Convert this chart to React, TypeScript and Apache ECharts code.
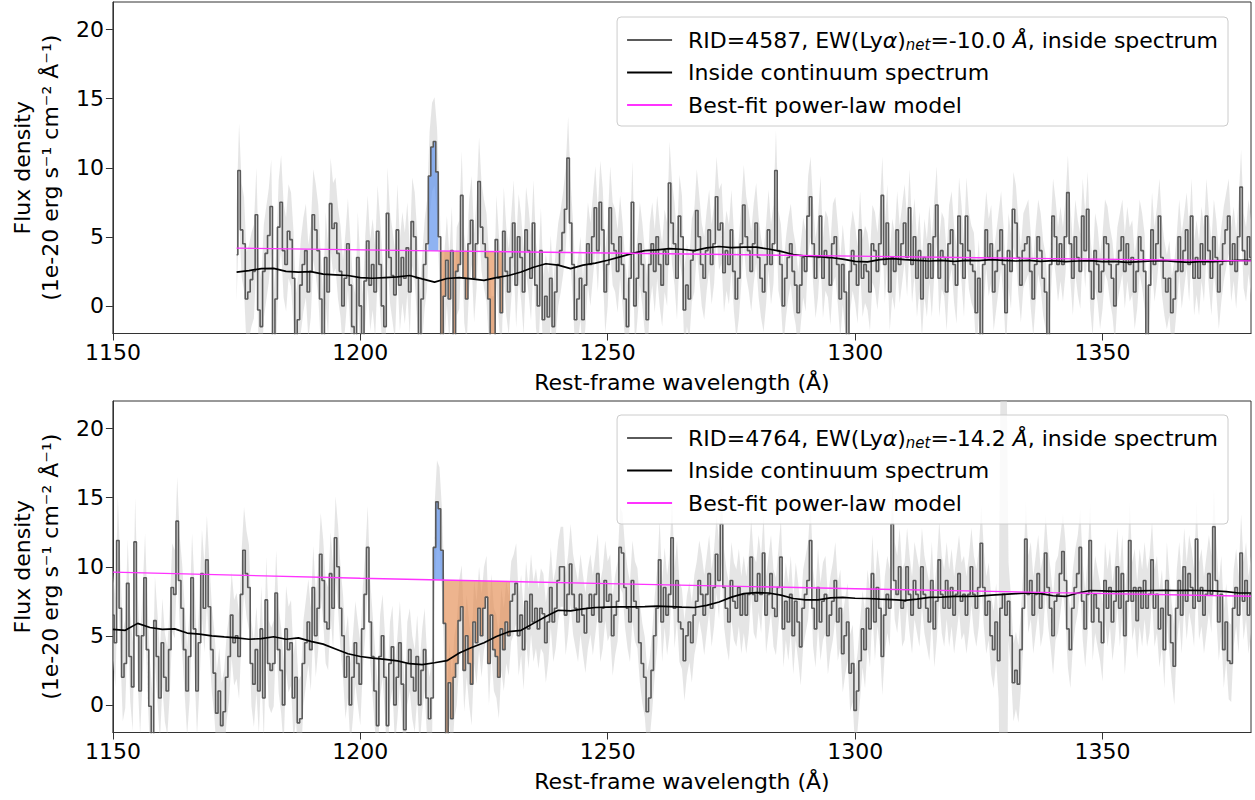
import React, { useEffect, useRef } from 'react';
import * as echarts from 'echarts';

const FONT = 'DejaVu Sans';
const X_TICKS = [1150, 1200, 1250, 1300, 1350];
const Y_TICKS = [0, 5, 10, 15, 20];
const STEP = 0.5; // spectral pixel (Å)

// ---------- top panel (RID=4587) spectrum, from 1175.0 Å in 0.5 Å pixels ----------
const TOP_START = 1175.0;
const TOP_FLUX = [
  3.7, 9.8, 5.5, 4.5, 0.5, 1.0, 1.9, 2.5, 6.6, -0.3,
  -1.5, 2.5, 3.8, 5.1, 7.2, -2.5, 0.5, 5.7, 7.5, 4.0,
  3.0, 5.4, 4.8, 2.0, -2.5, -1.0, 1.5, 3.0, 4.0, 1.0,
  2.5, 6.6, 5.5, 4.0, 0.5, -2.5, 3.5, 1.0, 7.4, 5.6,
  6.0, 3.8, 2.5, 0.0, 2.0, 4.5, 1.5, -1.5, -2.5, 3.5,
  0.0, -2.5, 1.8, 4.7, 1.5, 3.0, 1.0, 5.4, 3.0, 0.0,
  -1.5, 6.7, 3.5, 2.2, 0.8, 5.5, 1.5, 3.5, 2.0, 4.2,
  1.0, 6.1, 5.0, 2.0, -2.5, 0.5, 3.0, 4.5, 9.4, 11.5,
  11.9, 9.7, 5.0, -2.5, 0.7, 3.3, 0.5, 4.0, -2.5, 2.5,
  3.0, 8.0, 2.0, 0.5, 4.5, 6.2, 2.0, 4.5, 9.0, 5.7,
  4.5, 3.5, 0.5, -2.5, -2.5, 4.8, 2.0, -0.5, 5.4, 2.5,
  1.0, 3.5, 6.0, 1.5, 5.0, 3.5, 1.0, 5.5, 4.0, 2.0,
  6.0, 1.5, 0.0, 4.0, -1.0, 0.7, -0.8, 2.0, -1.5, 1.0,
  3.0, 4.0, 5.3, 7.0, 10.7, 6.0, 3.0, -1.0, 0.5, 2.0,
  -1.0, 1.5, 4.5, 3.0, 5.0, 7.1, 4.0, 7.5, 5.5, 1.0,
  3.0, 7.1, 4.5, 4.0, 2.5, 5.0, 3.0, 0.5, -1.5, 2.0,
  7.5, 0.0, 2.0, 4.5, 3.0, 1.0, -1.0, 3.0, 4.5, 2.5,
  5.0, 3.0, 1.5, 4.0, 3.0, 8.9, 6.0, 4.5, 2.0, 6.5,
  5.0, -0.3, 1.5, 0.5, 3.3, 4.0, 6.9, 5.0, 3.0, 2.0,
  4.0, 5.5, 3.0, 4.5, 7.9, 5.5, 6.0, 2.4, 4.0, 3.0,
  5.5, 2.5, 0.5, 2.0, 4.5, 7.3, 5.0, 4.0, 2.5, 4.5,
  6.0, 3.5, 2.0, 1.0, 3.0, 5.5, 3.0, 4.5, 9.8, 4.0,
  3.0, 0.0, 2.0, 3.5, 4.5, 2.5, 1.5, -0.5, 1.5, 3.5,
  2.5, 6.5, 7.9, 4.5, 2.0, 3.5, 6.5, 2.0, 4.0, 3.5,
  1.5, 4.5, 5.0, 3.0, 0.5, 3.0, 1.0, -2.5, 2.5, 4.0,
  3.0, 1.5, 5.5, 2.0, 3.0, 2.5, 1.0, 4.5, 4.0, 2.5,
  4.5, 8.0, 3.0, 6.0, 1.0, 3.5, 2.5, 5.5, 3.0, 4.5,
  6.0, 3.5, 7.1, 3.0, 5.0, 2.0, 4.0, 0.5, 3.5, 2.0,
  4.5, 2.0, 5.0, 7.3, 2.0, 4.0, 3.5, 1.0, 4.5, 5.5,
  3.0, 1.5, 6.5, 4.5, 2.0, 6.5, 4.0, 3.0, 2.5, -0.5,
  2.0, -2.5, 3.0, 5.5, 3.5, 4.5, 1.0, 2.5, 4.0, 5.5,
  3.0, -0.5, 4.0, 2.5, 7.0, 6.0, 3.5, 1.5, 4.0, 4.5,
  5.0, 2.5, 0.5, 3.0, 5.0, 4.0, 2.0, 1.0, -2.5, 3.0,
  6.5, 5.0, 3.0, 4.5, 3.0, 5.0, 8.2, 4.5, 2.0, 5.0,
  3.5, 2.5, 6.5, 4.0, 7.0, 2.5, 0.5, 4.0, 3.0, 1.0,
  2.5, 5.0, 4.5, 3.0, 2.0, 0.0, 3.0, 4.0, 5.0, 2.5,
  4.5, 3.0, 3.5, 1.0, 2.5, 5.0, 4.0, 2.5, -2.5, 1.5,
  5.5, 3.0, 4.5, 6.5, 3.5, 2.0, 1.0, 2.0, -0.5, 0.5,
  2.5, 5.0, 2.5, 4.0, 5.5, 3.0, 6.5, 2.0, 3.5, 2.0,
  4.5, 3.0, 6.5, 4.0, 2.0, 5.0, 3.5, 1.0, 3.0, 4.5,
  5.5, 6.5, 3.0, 4.5, 2.5, 5.0, 8.6, 4.0, 3.0, 5.0,
  3.5,
];

// ---------- bottom panel (RID=4764) spectrum, from 1150.0 Å in 0.5 Å pixels ----------
const BOT_START = 1150.0;
const BOT_FLUX = [
  6.5, 4.5, 11.9, 7.0, 2.0, 3.0, 8.8, 3.5, 1.3, 11.8,
  5.0, 1.0, 5.0, 9.2, 4.0, -0.1, -2.5, 6.1, 3.5, 0.5,
  4.5, 2.0, 1.0, 4.0, 8.5, 8.0, 13.3, 9.0, 7.0, 4.0,
  1.0, 3.5, 9.2, 5.5, 1.0, 4.5, 9.5, 7.0, 10.5, 7.1,
  4.0, 2.3, -0.6, 1.0, -1.5, -0.5, 2.0, 3.5, 6.5, 4.5,
  5.0, 3.5, 8.0, 11.2, 9.5, 8.5, 3.0, 1.5, 4.0, 1.0,
  5.5, 0.5, 7.6, 3.0, 2.5, 3.0, 8.1, 4.0, 2.5, 0.0,
  5.5, 4.0, 4.5, 0.5, 2.0, -1.3, -1.0, 3.0, 4.5, 6.0,
  4.0, 8.5, 5.0, 7.0, 10.9, 9.0, 6.0, 5.5, 9.5, 7.0,
  12.1, 10.0, 7.0, 5.0, 2.0, 3.5, 0.0, 2.0, 4.5, 3.0,
  1.5, 5.5, 8.0, 11.4, 6.0, 3.5, 1.0, -1.5, 3.5, 5.0,
  2.0, -1.5, 3.0, 4.2, 0.0, 2.0, 4.5, 1.5, -1.8, 3.0,
  4.0, 2.0, 1.0, 3.5, 0.0, 2.5, 4.0, 0.5, -1.0, 0.5,
  11.4, 14.7, 14.2, 11.2, 5.9, -2.5, 1.6, -1.0, 2.0, 3.0,
  6.1, 7.1, 2.5, 5.0, 3.0, 1.5, 6.0, 4.5, 7.0, 5.0,
  7.0, 7.8, 3.0, 6.5, 4.0, 3.5, 2.0, 5.5, 4.0, 6.0,
  5.0, 7.5, 8.0, 8.8, 5.0, 6.5, 4.0, 7.5, 5.5, 8.0,
  6.0, 7.0, 5.5, 7.0, 6.6, 4.5, 6.0, 8.5, 6.0, 7.0,
  9.0, 10.0, 10.0, 6.5, 8.0, 10.2, 8.0, 7.0, 6.0, 8.0,
  6.5, 5.2, 7.0, 8.0, 6.5, 8.0, 9.5, 6.0, 7.0, 9.0,
  7.5, 8.0, 5.0, 6.5, 7.5, 11.4, 11.0, 8.5, 7.0, 6.0,
  9.0, 7.5, 7.0, 4.5, 3.0, 2.0, -0.5, 0.5, 2.5, 5.0,
  7.0, 10.5, 6.0, 8.5, 6.5, 8.0, 12.1, 7.0, 9.0, 6.0,
  5.5, 3.2, 5.0, 6.0, 4.5, 6.5, 7.5, 9.0, 8.0, 6.5,
  8.0, 9.5, 7.0, 8.5, 10.9, 9.0, 13.1, 8.5, 7.0, 6.0,
  9.0, 7.5, 7.0, 8.5, 6.5, 8.0, 6.5, 8.0, 10.7, 8.0,
  7.5, 9.5, 8.0, 11.0, 6.5, 8.0, 9.5, 7.0, 6.4, 8.5,
  10.7, 5.5, 7.5, 6.0, 8.0, 5.0, 7.5, 6.0, 4.2, 7.0,
  8.0, 9.0, 11.9, 7.0, 5.5, 8.5, 6.0, 7.5, 8.0, 5.0,
  6.5, 7.5, 9.0, 6.0, 7.0, 3.7, 5.0, 6.0, 2.3, 3.0,
  -0.4, 1.0, 3.2, 5.5, 4.0, 7.0, 5.5, 9.5, 6.0, 8.5,
  7.0, 3.5, 6.5, 8.0, 7.0, 13.1, 9.0, 8.0, 10.0, 7.0,
  7.5, 10.0, 8.0, 6.5, 9.0, 8.0, 7.0, 10.0, 8.0, 7.0,
  6.0, 9.0, 5.5, 7.5, 10.5, 8.0, 7.0, 9.0, 7.0, 8.5,
  6.5, 8.0, 9.5, 7.5, 8.0, 6.5, 8.0, 10.0, 8.0, 7.0,
  8.5, 11.7, 8.5, 6.5, 7.5, 5.0, 4.0, 6.0, 3.2, 7.0,
  8.0, 6.5, 7.5, 5.0, 1.6, 2.5, 1.5, 4.0, 7.0, 12.0,
  8.0, 9.0, 6.5, 8.0, 9.5, 7.0, 8.0, 11.0, 8.5, 7.0,
  5.0, 7.5, 8.0, 9.5, 11.1, 9.0, 5.5, 4.0, 7.0, 8.5,
  9.5, 11.4, 7.5, 5.5, 8.0, 11.9, 6.0, 8.0, 7.0, 6.0,
  4.5, 9.0, 7.0, 8.5, 6.0, 7.5, 10.0, 7.0, 9.5, 5.0,
  7.5, 11.9, 7.5, 8.5, 6.1, 8.5, 7.0, 9.0, 7.0, 8.0,
  10.5, 7.0, 8.0, 5.5, 7.0, 4.0, 9.0, 6.5, 4.5, 2.8,
  7.0, 9.0, 6.5, 10.0, 7.5, 9.5, 8.5, 7.0, 12.0, 7.5,
  8.5, 6.5, 8.0, 9.5, 8.0, 12.9, 9.0, 6.0, 8.0, 4.0,
  6.0, 3.2, 3.0, 7.0, 8.5, 6.5, 11.0, 7.5, 9.0, 6.5,
  8.0,
];

// ---------- continuum spectra (2.5 Å sampling) ----------
const CONT_STEP = 2.5;
const TOP_CONT = [
  2.45, 2.55, 2.7, 2.72, 2.5, 2.45, 2.48, 2.3, 2.25, 2.2,
  2.05, 2.0, 2.05, 2.1, 2.2, 1.95, 1.72, 1.98, 2.05, 1.95,
  1.85, 2.05, 2.2, 2.45, 2.8, 3.05, 2.95, 2.7, 2.95, 3.1,
  3.3, 3.55, 3.8, 4.0, 4.05, 4.15, 4.1, 4.0, 4.2, 4.3,
  4.22, 4.25, 4.25, 4.12, 3.95, 3.72, 3.6, 3.57, 3.5, 3.38,
  3.22, 3.18, 3.35, 3.42, 3.35, 3.3, 3.25, 3.3, 3.22, 3.3,
  3.28, 3.35, 3.3, 3.25, 3.3, 3.22, 3.28, 3.2, 3.25, 3.28,
  3.2, 3.22, 3.15, 3.2, 3.25, 3.28, 3.2, 3.15, 3.22, 3.2,
  3.25, 3.3, 3.3,
];
const BOT_CONT = [
  5.46, 5.4, 5.9, 5.6, 5.47, 5.5, 5.2, 5.12, 5.0, 4.92,
  4.85, 4.75, 4.8, 4.93, 4.75, 4.85, 4.6, 4.4, 4.05, 3.7,
  3.5, 3.38, 3.3, 3.18, 2.98, 2.92, 3.05, 3.2, 3.75, 4.15,
  4.5, 4.95, 5.3, 5.4, 5.9, 6.4, 6.85, 6.8, 6.95, 7.05,
  7.08, 7.1, 7.1, 7.12, 7.15, 7.12, 7.08, 7.05, 7.2, 7.45,
  7.8, 8.05, 8.12, 8.1, 7.95, 7.7, 7.6, 7.6, 7.75, 7.78,
  7.72, 7.7, 7.65, 7.62, 7.57, 7.65, 7.78, 7.8, 7.85, 7.85,
  7.88, 7.95, 8.0, 8.05, 8.1, 8.05, 7.9, 7.85, 8.1, 8.28,
  8.25, 8.22, 8.25, 8.25, 8.28, 8.3, 8.28, 8.3, 8.28, 8.25,
  8.2, 8.1, 8.1,
];

// ---------- best-fit power-law models ----------
const TOP_PL_WL = [1175, 1215, 1250, 1300, 1340, 1380];
const TOP_PL = [4.18, 3.98, 3.83, 3.6, 3.42, 3.26];
const BOT_PL_WL = [1150, 1200, 1250, 1300, 1340, 1380];
const BOT_PL = [9.61, 9.17, 8.78, 8.41, 8.13, 7.86];

// ---------- 1-sigma uncertainties (10 Å bins) ----------
const TOP_SIGMA_START = 1170;
const TOP_SIGMA = [3.4, 3.4, 3.3, 3.3, 3.2, 3.2, 3.1, 3.0, 3.0, 3.0, 2.9, 2.9, 2.9, 2.8, 2.8, 2.8, 2.7, 2.7, 2.7, 2.7, 2.7, 2.7];
const BOT_SIGMA_START = 1150;
const BOT_SIGMA = [3.2, 3.2, 3.1, 3.1, 3.0, 3.0, 3.0, 3.0, 2.9, 2.9, 2.9, 2.9, 2.8, 2.8, 2.8, 2.8, 2.8, 2.8, 2.8, 2.8, 2.8, 2.8, 2.8, 2.8];
const BOT_SKY_WL = [1329.5, 1330.0, 1330.5];
const BOT_SKY_SIGMA = [22, 26, 22];

// ---------- Lyα emission / absorption windows ----------
const TOP_BLUE = [1214.0, 1215.5];
const TOP_ORANGE = [1216.0, 1228.5];
const BOT_BLUE = [1215.0, 1216.5];
const BOT_ORANGE = [1217.0, 1230.0];

const SPEC_NAMES = [
  'RID=4587, EW(Lyα)net=-10.0 Å, inside spectrum',
  'RID=4764, EW(Lyα)net=-14.2 Å, inside spectrum',
];
const CONT_NAME = 'Inside continuum spectrum';
const PL_NAME = 'Best-fit power-law model';
const LEGEND_TEXT: Record<string, string> = {
  [SPEC_NAMES[0]]: '{sp| }RID=4587, EW(Ly{it|α}){sub|net}=-10.0 {it|Å}, inside spectrum',
  [SPEC_NAMES[1]]: '{sp| }RID=4764, EW(Ly{it|α}){sub|net}=-14.2 {it|Å}, inside spectrum',
  [CONT_NAME]: '{sp| }Inside continuum spectrum',
  [PL_NAME]: '{sp| }Best-fit power-law model',
};

const COLORS = {
  band: 'rgba(211,211,211,0.6)',
  spec: '#5a5a5a',
  cont: '#000000',
  pl: '#ff33ff',
  blue: 'rgba(100,149,237,0.72)',
  orange: 'rgba(228,140,82,0.65)',
  frame: '#333333',
};

function interp(xs: number[], ys: number[], x: number): number {
  let k = 0;
  while (k < xs.length - 2 && x > xs[k + 1]) k++;
  return ys[k] + ((ys[k + 1] - ys[k]) * (x - xs[k])) / (xs[k + 1] - xs[k]);
}

function sigmaFor(wl: number, bins: number[], start: number, skyWl: number[], skySig: number[]): number {
  for (let k = 0; k < skyWl.length; k++) if (Math.abs(skyWl[k] - wl) < 1e-6) return skySig[k];
  const idx = Math.min(bins.length - 1, Math.max(0, Math.floor((wl - start) / 10)));
  return bins[idx];
}

function clipRect(params: any) {
  const cs = params.coordSys;
  return { type: 'rect', shape: { x: cs.x, y: cs.y, width: cs.width, height: cs.height } };
}

interface Panel {
  wl: number[];
  flux: number[];
  sig: number[];
  contWl: number[];
  cont: number[];
  plWl: number[];
  pl: number[];
  blue: number[];
  orange: number[];
  name: string;
}

function buildPanel(
  start: number, flux: number[], cont: number[], plWl: number[], pl: number[],
  sigBins: number[], sigStart: number, skyWl: number[], skySig: number[],
  blue: number[], orange: number[], name: string,
): Panel {
  const wl = flux.map((_, i) => start + i * STEP);
  const contWl = cont.map((_, i) => start + i * CONT_STEP);
  const sig = wl.map((w) => sigmaFor(w, sigBins, sigStart, skyWl, skySig));
  return { wl, flux, sig, contWl, cont, plWl, pl, blue, orange, name };
}

const PANELS: Panel[] = [
  buildPanel(TOP_START, TOP_FLUX, TOP_CONT, TOP_PL_WL, TOP_PL, TOP_SIGMA, TOP_SIGMA_START, [], [], TOP_BLUE, TOP_ORANGE, SPEC_NAMES[0]),
  buildPanel(BOT_START, BOT_FLUX, BOT_CONT, BOT_PL_WL, BOT_PL, BOT_SIGMA, BOT_SIGMA_START, BOT_SKY_WL, BOT_SKY_SIGMA, BOT_BLUE, BOT_ORANGE, SPEC_NAMES[1]),
];

function bandSeries(idx: number, p: Panel) {
  return {
    type: 'custom',
    xAxisIndex: idx,
    yAxisIndex: idx,
    silent: true,
    z: 1,
    data: [[p.wl[0], p.flux[0]]],
    renderItem: (params: any, api: any) => {
      const pts: number[][] = [];
      for (let i = 0; i < p.wl.length; i++) pts.push(api.coord([p.wl[i], p.flux[i] + p.sig[i]]));
      for (let i = p.wl.length - 1; i >= 0; i--) pts.push(api.coord([p.wl[i], p.flux[i] - p.sig[i]]));
      return {
        type: 'polygon',
        shape: { points: pts },
        style: { fill: COLORS.band },
        clipPath: clipRect(params),
      };
    },
  };
}

function lyaFill(idx: number, p: Panel, range: number[], color: string, emission: boolean) {
  return {
    type: 'custom',
    xAxisIndex: idx,
    yAxisIndex: idx,
    silent: true,
    z: 2,
    data: [[range[0], interp(p.plWl, p.pl, range[0])]],
    renderItem: (params: any, api: any) => {
      const pts: number[][] = [];
      let first = -1;
      let last = -1;
      for (let i = 0; i < p.wl.length; i++) {
        if (p.wl[i] < range[0] - 1e-6 || p.wl[i] > range[1] + 1e-6) continue;
        if (first < 0) first = i;
        last = i;
        const base = interp(p.plWl, p.pl, p.wl[i]);
        const f = emission ? Math.max(p.flux[i], base) : Math.min(p.flux[i], base);
        pts.push(api.coord([p.wl[i] - STEP / 2, f]));
        pts.push(api.coord([p.wl[i] + STEP / 2, f]));
      }
      const x1 = p.wl[last] + STEP / 2;
      const x0 = p.wl[first] - STEP / 2;
      pts.push(api.coord([x1, interp(p.plWl, p.pl, x1)]));
      pts.push(api.coord([x0, interp(p.plWl, p.pl, x0)]));
      return {
        type: 'polygon',
        shape: { points: pts },
        style: { fill: color },
        clipPath: clipRect(params),
      };
    },
  };
}

const GRID_TOPS = [2, 401];
const LEGEND_TOPS = [17, 415];

function buildOption() {
  const grid: any[] = [];
  const xAxis: any[] = [];
  const yAxis: any[] = [];
  const series: any[] = [];
  const legend: any[] = [];

  PANELS.forEach((p, idx) => {
    grid.push({
      left: 107,
      top: GRID_TOPS[idx],
      width: 1144,
      height: 331.5,
      show: true,
      borderColor: COLORS.frame,
      borderWidth: 1,
      backgroundColor: 'transparent',
    });
    xAxis.push({
      type: 'value',
      gridIndex: idx,
      min: 1150,
      max: 1380,
      axisLine: { show: true, onZero: false, lineStyle: { color: COLORS.frame, width: 1 } },
      splitLine: { show: false },
      axisTick: { show: true, inside: false, length: 7, customValues: X_TICKS, lineStyle: { color: COLORS.frame, width: 1 } },
      axisLabel: {
        customValues: X_TICKS,
        fontSize: 22,
        fontFamily: FONT,
        color: '#000',
        margin: 8,
        formatter: (v: number) => String(v),
      },
      name: 'Rest-frame wavelength (Å)',
      nameLocation: 'middle',
      nameGap: 38,
      nameTextStyle: { fontSize: 22, fontFamily: FONT, color: '#000' },
    });
    yAxis.push({
      type: 'value',
      gridIndex: idx,
      min: -2,
      max: 22,
      axisLine: { show: true, onZero: false, lineStyle: { color: COLORS.frame, width: 1 } },
      splitLine: { show: false },
      axisTick: { show: true, inside: false, length: 7, customValues: Y_TICKS, lineStyle: { color: COLORS.frame, width: 1 } },
      axisLabel: {
        customValues: Y_TICKS,
        fontSize: 22,
        fontFamily: FONT,
        color: '#000',
        margin: 9,
        formatter: (v: number) => String(v),
      },
      name: 'Flux density\n(1e-20 erg s⁻¹ cm⁻² Å⁻¹)',
      nameLocation: 'middle',
      nameRotate: 90,
      nameGap: 43,
      nameTextStyle: { fontSize: 22, fontFamily: FONT, color: '#000', lineHeight: 28.5, align: 'center' },
    });

    series.push(bandSeries(idx, p));
    series.push(lyaFill(idx, p, p.blue, COLORS.blue, true));
    series.push(lyaFill(idx, p, p.orange, COLORS.orange, false));
    series.push({
      type: 'line',
      name: p.name,
      xAxisIndex: idx,
      yAxisIndex: idx,
      data: p.wl.map((w, i) => [w, p.flux[i]]),
      step: 'middle',
      symbol: 'none',
      showSymbol: false,
      silent: true,
      z: 3,
      lineStyle: { color: COLORS.spec, width: 1.6 },
      itemStyle: { color: COLORS.spec },
    });
    series.push({
      type: 'line',
      name: CONT_NAME,
      xAxisIndex: idx,
      yAxisIndex: idx,
      data: p.contWl.map((w, i) => [w, p.cont[i]]),
      symbol: 'none',
      showSymbol: false,
      silent: true,
      z: 4,
      lineStyle: { color: COLORS.cont, width: 1.7 },
      itemStyle: { color: COLORS.cont },
    });
    series.push({
      type: 'line',
      name: PL_NAME,
      xAxisIndex: idx,
      yAxisIndex: idx,
      data: p.plWl.map((w, i) => [w, p.pl[i]]),
      symbol: 'none',
      showSymbol: false,
      silent: true,
      z: 5,
      lineStyle: { color: COLORS.pl, width: 1.4 },
      itemStyle: { color: COLORS.pl },
    });

    legend.push({
      orient: 'vertical',
      right: 27,
      top: LEGEND_TOPS[idx],
      z: 20,
      data: [p.name, CONT_NAME, PL_NAME],
      selectedMode: false,
      itemWidth: 45,
      itemHeight: 14,
      itemGap: 8.5,
      padding: [11, 10, 9, 9],
      backgroundColor: 'rgba(255,255,255,0.8)',
      borderColor: '#cccccc',
      borderWidth: 1,
      borderRadius: 4,
      itemStyle: { opacity: 0 },
      formatter: (name: string) => LEGEND_TEXT[name] || name,
      textStyle: {
        fontSize: 22,
        fontFamily: FONT,
        color: '#000',
        lineHeight: 24,
        rich: {
          sp: { width: 11, fontSize: 22, fontFamily: FONT },
          it: { fontStyle: 'italic', fontSize: 22, fontFamily: FONT, color: '#000' },
          sub: { fontStyle: 'italic', fontSize: 15, fontFamily: FONT, color: '#000', lineHeight: 14, verticalAlign: 'bottom' },
        },
      },
    });
  });

  return {
    animation: false,
    backgroundColor: '#ffffff',
    textStyle: { fontFamily: FONT },
    grid,
    xAxis,
    yAxis,
    legend,
    series,
  };
}

export default function App() {
  const ref = useRef<HTMLDivElement | null>(null);
  useEffect(() => {
    if (!ref.current) return;
    const chart = echarts.init(ref.current, undefined, { renderer: 'svg' });
    chart.setOption(buildOption() as any);
    return () => {
      chart.dispose();
    };
  }, []);
  return (
    <div
      ref={ref}
      style={{ position: 'fixed', left: 0, top: 0, width: 1255, height: 800, background: '#fff' }}
    />
  );
}
